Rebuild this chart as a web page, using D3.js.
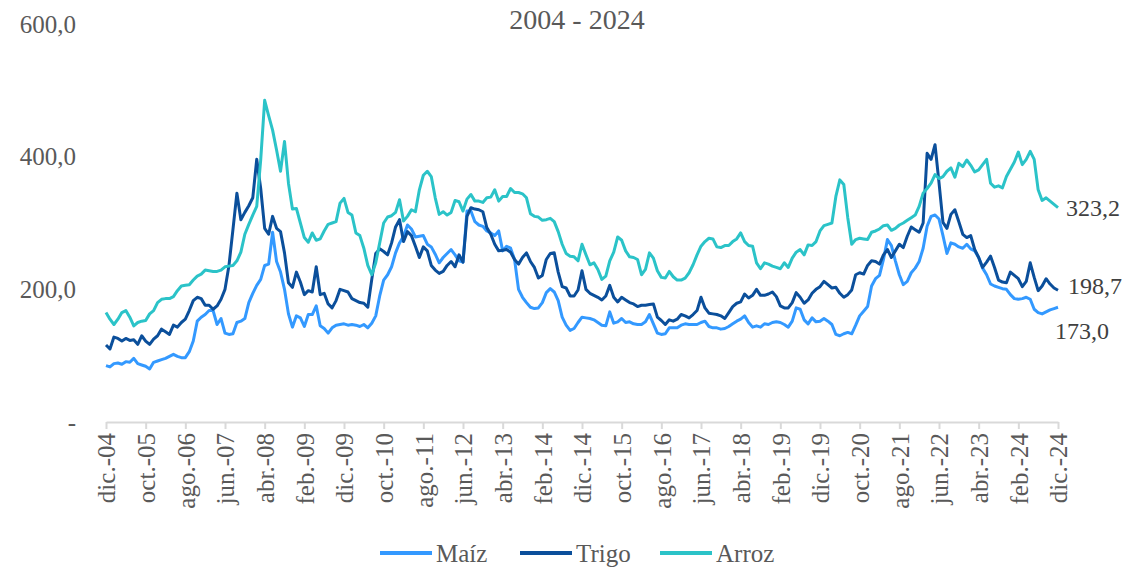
<!DOCTYPE html>
<html>
<head>
<meta charset="utf-8">
<script src="https://cdn.jsdelivr.net/npm/d3@7"></script>
<style>
  html, body { margin: 0; padding: 0; background: #fff; }
  svg { display: block; font-family: "Liberation Serif", "Times New Roman", serif; }
</style>
</head>
<body>
<div id="chart"></div>
<script>
// valores mensuales dic-04 .. dic-24
var maiz = [
  85, 83, 88, 89, 87, 91, 90, 96, 88, 86, 84, 80, 90, 92, 94, 96, 99, 102, 99, 97,
  97, 106, 122, 152, 158, 162, 168, 168, 147, 156, 134, 132, 133, 150, 152, 156, 180, 194, 206, 215,
  236, 238, 286, 242, 226, 200, 163, 143, 160, 157, 144, 162, 162, 175, 145, 141, 134, 142, 146, 147,
  148, 146, 147, 146, 144, 147, 142, 149, 160, 190, 214, 222, 234, 255, 270, 280, 297, 291, 279, 280,
  281, 268, 264, 253, 240, 248, 254, 260, 252, 243, 241, 318, 318, 302, 297, 295, 288, 285, 281, 288,
  258, 265, 262, 245, 200, 188, 180, 173, 171, 172, 180, 195, 201, 196, 183, 158, 146, 138, 141, 150,
  158, 157, 156, 154, 150, 146, 145, 166, 149, 151, 156, 150, 151, 148, 147, 147, 151, 162, 148, 134,
  132, 133, 142, 142, 142, 146, 148, 147, 147, 147, 150, 152, 144, 142, 142, 140, 141, 144, 148, 152,
  155, 160, 150, 143, 145, 143, 148, 147, 150, 151, 150, 147, 143, 152, 172, 170, 154, 148, 157, 151,
  152, 156, 152, 147, 132, 130, 133, 135, 133, 146, 160, 167, 174, 205, 216, 221, 245, 275, 266, 243,
  222, 207, 212, 225, 232, 242, 262, 295, 310, 312, 306, 281, 254, 270, 268, 264, 262, 268, 261, 258,
  248, 232, 222, 208, 205, 203, 201, 200, 192, 186, 185, 186, 188, 185, 170, 165, 163, 166, 169, 171,
  173.0
];
var trigo = [
  116, 110, 128, 126, 122, 126, 123, 124, 117, 130, 122, 117, 125, 130, 140, 136, 132, 146, 143, 150,
  155, 168, 183, 188, 186, 176, 176, 170, 175, 185, 200, 236, 290, 345, 305, 316, 326, 338, 396, 352,
  292, 283, 310, 292, 287, 255, 210, 203, 226, 211, 192, 198, 196, 234, 192, 194, 178, 172, 183, 200,
  198, 196, 186, 183, 180, 179, 173, 215, 254, 261, 257, 252, 270, 294, 305, 272, 287, 281, 265, 248,
  264, 258, 236, 229, 224, 227, 236, 242, 234, 252, 241, 310, 323, 321, 320, 317, 293, 283, 268, 258,
  259, 260, 256, 245, 238, 248, 255, 242, 233, 217, 221, 245, 254, 255, 226, 204, 202, 190, 190, 199,
  228, 200, 194, 191, 188, 184, 190, 206, 188, 181, 188, 184, 180, 178, 174, 176, 176, 177, 178, 158,
  153, 147, 154, 152, 155, 162, 160, 157, 162, 168, 188, 172, 164, 163, 162, 160, 156, 165, 174, 179,
  181, 193, 187, 191, 200, 191, 191, 193, 196, 189, 175, 172, 172, 180, 195, 188, 179, 184, 194, 200,
  204, 212, 207, 202, 203, 194, 188, 192, 199, 222, 225, 223, 236, 243, 242, 238, 252, 260, 248, 258,
  268, 263, 280, 294, 290, 286, 300, 405, 396, 418, 361, 301, 292, 313, 320, 302, 283, 278, 281, 260,
  248, 233, 241, 250, 233, 214, 211, 210, 226, 221, 216, 204, 212, 240, 218, 198, 205, 216, 208, 202,
  198.7
];
var arroz = [
  165, 155, 147, 155, 165, 168, 158, 145, 150, 152, 153, 163, 168, 180, 185, 186, 186, 189, 198, 205,
  206, 207, 214, 220, 223, 229, 228, 227, 227, 229, 234, 235, 236, 243, 256, 283, 298, 312, 325, 395,
  485, 462, 440, 410, 378, 423, 360, 321, 322, 300, 278, 271, 285, 274, 276, 288, 298, 300, 302, 330,
  337, 316, 312, 285, 281, 262, 236, 222, 240, 270, 300, 309, 311, 316, 335, 303, 310, 320, 317, 350,
  372, 378, 370, 338, 313, 317, 312, 316, 334, 332, 318, 336, 343, 333, 333, 331, 338, 339, 350, 333,
  340, 340, 352, 346, 346, 344, 338, 314, 310, 309, 304, 305, 307, 302, 287, 268, 254, 250, 249, 243,
  268, 252, 237, 240, 230, 215, 220, 243, 256, 279, 274, 258, 249, 248, 245, 222, 230, 255, 247, 228,
  218, 217, 227, 219, 214, 214, 217, 225, 237, 252, 265, 272, 277, 276, 264, 263, 266, 266, 272, 276,
  285, 272, 266, 265, 240, 231, 240, 238, 235, 233, 231, 240, 233, 247, 256, 260, 252, 267, 266, 272,
  288, 296, 298, 300, 340, 365, 358, 308, 268, 275, 277, 276, 275, 286, 288, 291, 296, 297, 289, 292,
  297, 300, 304, 308, 312, 325, 345, 352, 360, 373, 367, 370, 378, 383, 369, 390, 385, 395, 387, 377,
  380, 388, 396, 360, 354, 356, 353, 370, 381, 392, 407, 388, 396, 408, 396, 350, 334, 338, 333, 328,
  323.2
];

var mesesAbr = ['ene.', 'feb.', 'mar.', 'abr.', 'may.', 'jun.', 'jul.', 'ago.', 'sep.', 'oct.', 'nov.', 'dic.'];
var xTickLabels = ['dic.-04', 'oct.-05', 'ago.-06', 'jun.-07', 'abr.-08', 'feb.-09', 'dic.-09', 'oct.-10',
  'ago.-11', 'jun.-12', 'abr.-13', 'feb.-14', 'dic.-14', 'oct.-15', 'ago.-16', 'jun.-17', 'abr.-18',
  'feb.-19', 'dic.-19', 'oct.-20', 'ago.-21', 'jun.-22', 'abr.-23', 'feb.-24', 'dic.-24'];
var yTicks = [0, 200, 400, 600];
var yTickLabels = ['-', '200,0', '400,0', '600,0'];
var endLabels = ['173,0', '198,7', '323,2'];

// etiquetas de mes para cada punto (dic-04 en adelante)
var meses = d3.range(maiz.length).map(function (i) {
  var m = (11 + i) % 12;
  var y = 4 + Math.floor((11 + i) / 12);
  return mesesAbr[m] + '-' + (y < 10 ? '0' + y : '' + y);
});

var series = [
  {name: 'Maíz', values: maiz, color: '#3399ff'},
  {name: 'Trigo', values: trigo, color: '#0b4f9b'},
  {name: 'Arroz', values: arroz, color: '#2bc3c8'}
];

var width = 1125, height = 569;
var textColor = '#595959';

var svg = d3.select('#chart').append('svg')
  .attr('width', width)
  .attr('height', height);

var x = d3.scaleLinear()
  .domain([0, meses.length - 1])
  .range([106, 1058]);

var y = d3.scaleLinear()
  .domain([0, 600])
  .range([422, 24]);

// titulo
svg.append('text')
  .attr('x', 577)
  .attr('y', 29)
  .attr('text-anchor', 'middle')
  .attr('fill', textColor)
  .style('font-size', '28px')
  .text('2004 - 2024');

// eje y (solo etiquetas)
var yAxis = d3.axisLeft(y)
  .tickValues(yTicks)
  .tickSize(0)
  .tickPadding(0)
  .tickFormat(function (d, i) { return yTickLabels[i]; });

var yAxisG = svg.append('g')
  .attr('transform', 'translate(76,0)')
  .call(yAxis);
yAxisG.select('.domain').remove();
yAxisG.selectAll('text')
  .attr('fill', textColor)
  .style('font-size', '25px')
  .style('font-family', '"Liberation Serif", serif');

// eje x
var xAxis = d3.axisBottom(x)
  .tickValues(xTickLabels.map(function (l) { return meses.indexOf(l); }))
  .tickSizeInner(7)
  .tickSizeOuter(0)
  .tickFormat(function (d) { return meses[d]; });

var xAxisG = svg.append('g')
  .attr('transform', 'translate(0,' + y(0) + ')')
  .call(xAxis);
xAxisG.select('.domain')
  .attr('stroke', '#d9d9d9')
  .attr('stroke-width', 2);
xAxisG.selectAll('.tick line')
  .attr('stroke', '#d9d9d9')
  .attr('stroke-width', 2);
xAxisG.selectAll('.tick text')
  .attr('fill', textColor)
  .style('font-size', '25px')
  .style('font-family', '"Liberation Serif", serif')
  .attr('text-anchor', 'end')
  .attr('transform', 'rotate(-90)')
  .attr('x', -11)
  .attr('y', 0)
  .attr('dy', '0.35em');

// lineas
var line = d3.line()
  .x(function (d, i) { return x(i); })
  .y(function (d) { return y(d); });

svg.append('g').selectAll('path')
  .data(series)
  .enter().append('path')
  .attr('fill', 'none')
  .attr('stroke', function (d) { return d.color; })
  .attr('stroke-width', 3)
  .attr('stroke-linejoin', 'round')
  .attr('d', function (d) { return line(d.values); });

// etiquetas del ultimo valor
var last = meses.length - 1;
var endPos = [
  {dx: -3, dy: 23},
  {dx: 10, dy: -5},
  {dx: 8, dy: 0}
];
svg.append('g').selectAll('text')
  .data(series)
  .enter().append('text')
  .attr('x', function (d, i) { return x(last) + endPos[i].dx; })
  .attr('y', function (d, i) { return y(d.values[last]) + endPos[i].dy; })
  .attr('dy', '0.35em')
  .attr('fill', '#404040')
  .style('font-size', '24px')
  .text(function (d, i) { return endLabels[i]; });

// leyenda
var legendX = [380, 520, 660];
var legend = svg.append('g')
  .attr('transform', 'translate(0,553)');
var items = legend.selectAll('g')
  .data(series)
  .enter().append('g')
  .attr('transform', function (d, i) { return 'translate(' + legendX[i] + ',0)'; });
items.append('line')
  .attr('x1', 0).attr('x2', 52)
  .attr('y1', 0).attr('y2', 0)
  .attr('stroke', function (d) { return d.color; })
  .attr('stroke-width', 4);
items.append('text')
  .attr('x', 56)
  .attr('y', 0)
  .attr('dy', '0.35em')
  .attr('fill', textColor)
  .style('font-size', '25px')
  .text(function (d) { return d.name; });
</script>
</body>
</html>
